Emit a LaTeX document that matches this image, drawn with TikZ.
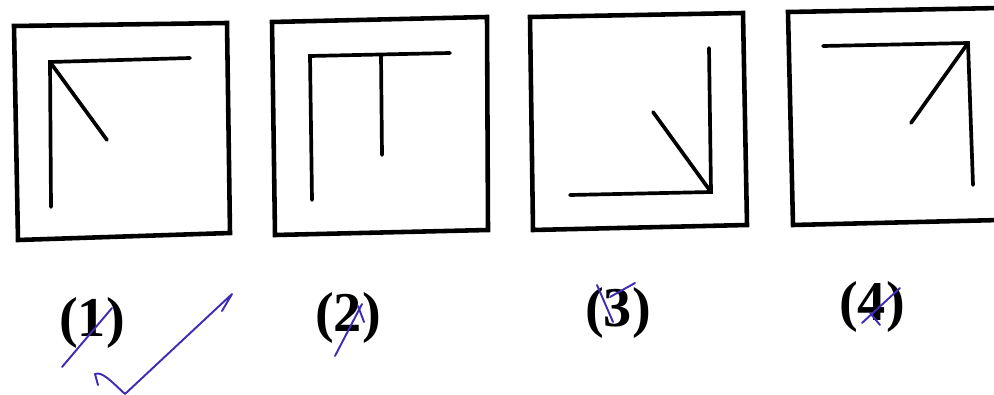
\documentclass[tikz,border=0pt]{standalone}
\usepackage{fontspec}
\setmainfont{Liberation Serif}
\definecolor{penblue}{RGB}{62,45,180}
\begin{document}
\begin{tikzpicture}[x=0.02cm,y=-0.02cm,
  frame/.style={line width=2.6pt,line join=miter},
  stroke/.style={line width=2.1pt,line cap=round},
  ink/.style={penblue,line width=1.1pt,line cap=round,line join=round},
  num/.style={font=\fontsize{32}{35}\selectfont\bfseries}]
\useasboundingbox (0,0) rectangle (994,395);
\clip (0,0) rectangle (994,395);
\draw[frame] (14,26) -- (227,23) -- (230,233) -- (18,240) -- cycle;
\draw[frame] (272,22) -- (487,17) -- (488,230) -- (275,235) -- cycle;
\draw[frame] (530,17) -- (743,13) -- (747,225) -- (533,230) -- cycle;
\draw[frame] (1000,8) -- (788,12) -- (793,225) -- (1000,220);
\draw[stroke] (190,58) -- (50,62) -- (51,207);
\draw[stroke] (50,62) -- (107,140);
\draw[stroke] (450,53) -- (310,56) -- (312,200);
\draw[stroke] (381,55) -- (382,155);
\draw[stroke] (709,48) -- (711,192) -- (570,195);
\draw[stroke] (653,112) -- (711,192);
\draw[stroke] (823,46) -- (968,43) -- (973,185);
\draw[stroke] (968,43) -- (911,123);
\node[num] (l1) at (92,323) {(1)};
\node[num] (l2) at (348,318) {(2)};
\node[num] (l3) at (618,313) {(3)};
\node[num] (l4) at (872,307) {(4)};
\draw[ink] (62,367) -- (112,308);
\draw[ink] (98,385) -- (95,374) .. controls (102,371) and (112,382) .. (125,394) -- (232,294) -- (222,311);
\draw[ink] (335,356) -- (362,304);
\draw[ink] (358,306) -- (364,322);
\draw[ink] (597,285) -- (613,322);
\draw[ink] (610,297) -- (635,283);
\draw[ink] (862,323) -- (900,288);
\draw[ink] (870,313) -- (880,325);
\end{tikzpicture}
\end{document}
